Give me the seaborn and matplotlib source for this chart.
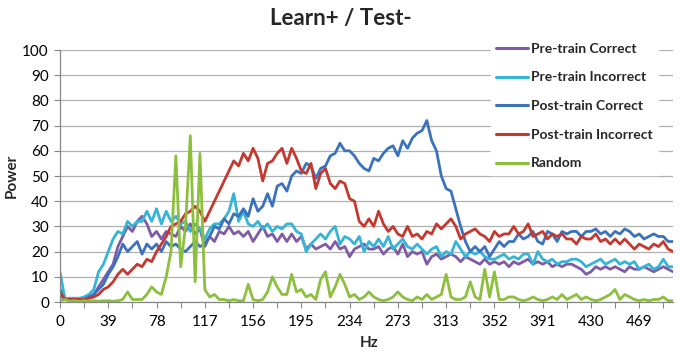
import matplotlib
matplotlib.use('Agg')
import matplotlib.pyplot as plt
import pandas as pd
import seaborn as sns
from matplotlib.ticker import FixedLocator

# frequency bins: 128 bins of 1000/256 Hz
bin_width = 1000 / 256
n_bins = 128

tick_labels = ['0', '39', '78', '117', '156', '195', '234', '273', '313',
               '352', '391', '430', '469']

series_names = ['Pre-train Correct', 'Pre-train Incorrect', 'Post-train Correct',
                'Post-train Incorrect', 'Random']

pre_correct = [
    5, 1, 1, 1, 1, 1.5, 2, 3, 6, 9, 12, 15, 22, 26, 30, 28,
    32, 34, 31, 26, 28, 25, 28, 27, 26, 30, 28, 31, 27, 29,
    22, 26, 24, 28, 27, 30, 27, 28, 26, 28, 24, 27, 30, 26, 27, 24, 27,
    24, 27, 24, 26, 21, 23, 21, 22, 23, 21, 24, 21, 22, 18, 21, 22,
    23, 21, 21, 22, 19, 21, 22, 19, 23, 18, 20, 19, 20, 15, 18, 19,
    17, 18, 19, 18, 16, 18, 17, 16, 15, 17, 15, 16, 15, 16, 14,
    16, 15, 16, 17, 15, 16, 15, 16, 14, 15, 14, 15, 15, 14, 13, 11,
    12, 14, 13, 14, 13, 14, 13, 12, 14, 13, 13, 14, 13, 12, 13, 14, 13, 12]

pre_incorrect = [
    12, 1.5, 1.5, 1.5, 1.5, 2, 3, 5, 12, 15, 20, 25, 28, 27, 32, 30,
    32, 32, 36, 32, 37, 31, 36, 32, 34, 31, 32, 28, 31, 29,
    25, 29, 31, 31, 33, 36, 43, 32, 36, 31, 30, 32, 29, 31, 28, 30, 29,
    31, 31, 28, 27, 20, 23, 25, 27, 25, 28, 30, 23, 26, 25, 23, 26,
    20, 24, 22, 25, 22, 26, 21, 23, 25, 22, 21, 23, 21, 19, 21, 22,
    18, 20, 19, 24, 21, 18, 20, 19, 20, 18, 17, 17, 18, 19, 17,
    18, 17, 19, 19, 15, 20, 17, 16, 17, 15, 16, 16, 17, 17, 16, 14,
    15, 16, 17, 15, 16, 17, 15, 16, 15, 16, 13, 14, 15, 13, 14, 17, 14, 14]

post_correct = [
    3, 1, 1, 1, 1, 1, 2, 3, 5, 7, 11, 14, 18, 23, 20, 22,
    24, 19, 23, 21, 23, 20, 24, 22, 23, 21, 20, 22, 24, 22,
    23, 26, 30, 29, 33, 31, 35, 34, 37, 34, 41, 36, 38, 43, 38, 46, 47,
    44, 50, 52, 51, 55, 54, 49, 53, 54, 58, 59, 63, 60, 60, 58, 55,
    53, 52, 57, 56, 59, 61, 62, 58, 64, 61, 65, 67, 68, 72, 64, 60,
    50, 45, 44, 37, 30, 24, 20, 22, 20, 22, 18, 21, 24, 22, 24,
    24, 27, 25, 26, 28, 24, 23, 28, 27, 24, 28, 27, 28, 28, 26, 28,
    28, 29, 27, 28, 26, 28, 27, 29, 28, 26, 27, 25, 26, 27, 26, 26, 24, 24]

post_incorrect = [
    4, 1, 1, 1, 1, 1, 1.5, 2, 3, 5, 6, 8, 11, 13, 11, 13,
    15, 14, 17, 16, 20, 23, 26, 30, 31, 32, 35, 36, 38, 36,
    32, 36, 40, 44, 48, 52, 56, 54, 59, 56, 61, 57, 48, 55, 56, 59, 61,
    55, 61, 57, 52, 51, 55, 45, 51, 53, 47, 45, 48, 47, 41, 40, 32,
    30, 33, 30, 36, 31, 28, 30, 27, 26, 30, 26, 27, 25, 28, 27, 31,
    29, 31, 33, 30, 25, 27, 28, 29, 27, 26, 24, 28, 26, 27, 27,
    30, 27, 28, 31, 26, 27, 28, 25, 27, 26, 27, 25, 25, 23, 26, 25,
    25, 27, 24, 25, 23, 25, 23, 25, 23, 21, 23, 22, 21, 23, 22, 24, 21, 20]

random_power = [
    0.5, 1, 0.3, 0.5, 0.3, 0.5, 0.3, 0.5, 0.3, 0.5, 0.5, 0.3, 0.5, 1, 4, 1,
    1, 1, 3, 6, 4, 3, 10, 20, 58, 14, 30, 66, 8, 59,
    5, 2, 3, 1, 1, 0.5, 1, 0.5, 0.5, 7, 1, 0.5, 1, 4, 10, 6, 3,
    3, 11, 4, 5, 2, 3, 1, 9, 12, 2, 6, 11, 7, 2, 3, 1,
    2, 4, 2, 1, 0.5, 1, 2, 4, 2, 1, 0.5, 2, 1, 3, 1, 2,
    3, 11, 2, 1, 1, 2, 8, 2, 1, 13, 2, 12, 1, 1, 2,
    2, 1, 0.5, 1, 2, 1, 0.5, 1, 2, 1, 3, 1, 2, 3, 1, 2,
    1, 0.5, 1, 2, 3, 5, 1, 3, 2, 1, 0.5, 1, 0.5, 1, 1, 2, 0.5, 0.5]

colors = ['#7F5BA6', '#34B4D6', '#3A72BE', '#C4392F', '#8DBF3E']

# long-form table for seaborn
hz = [i * bin_width for i in range(n_bins)]
frames = []
for name, vals in zip(series_names, [pre_correct, pre_incorrect, post_correct,
                                     post_incorrect, random_power]):
    frames.append(pd.DataFrame({'Hz': hz, 'Power': vals, 'Series': name}))
df = pd.concat(frames, ignore_index=True)

sns.set_theme(style='white')
plt.rcParams['font.family'] = ['Lato', 'DejaVu Sans']

fig = plt.figure(figsize=(6.8, 3.53), dpi=100)
ax = fig.add_axes([60 / 680, 51 / 353, 613 / 680, 252 / 353])

sns.lineplot(data=df, x='Hz', y='Power', hue='Series', hue_order=series_names,
             palette=colors, linewidth=2.0, estimator=None, ax=ax)

ax.set_xlim(0, (n_bins - 1) * bin_width)
ax.set_ylim(0, 100)

# x ticks: labels every 10 bins, tick marks every 5 bins
ax.xaxis.set_major_locator(FixedLocator([i * bin_width for i in range(0, n_bins, 10)]))
ax.set_xticklabels(tick_labels)
ax.xaxis.set_minor_locator(FixedLocator([i * bin_width for i in range(5, n_bins, 10)]))
ax.set_yticks(range(0, 101, 10))

ax.tick_params(axis='both', which='both', direction='out', color='#868686',
               labelsize=11, labelcolor='black')
ax.tick_params(axis='x', which='both', length=4, width=0.8, pad=5, bottom=True)
ax.tick_params(axis='y', length=4, width=0.8, pad=4, left=True)

ax.yaxis.grid(True, color='#B0B0B0', linewidth=0.9)
ax.xaxis.grid(False)
ax.set_axisbelow(True)
for side in ['top', 'right']:
    ax.spines[side].set_visible(False)
for side in ['left', 'bottom']:
    ax.spines[side].set_color('#868686')
    ax.spines[side].set_linewidth(0.9)

ax.set_xlabel('Hz', fontsize=11, fontweight='bold')
ax.set_ylabel('Power', fontsize=11, fontweight='bold')
ax.xaxis.set_label_coords(0.505, -0.135)
ax.yaxis.set_label_coords(-0.067, 0.5)

handles, labels = ax.get_legend_handles_labels()
leg = ax.legend(handles, labels, loc='upper left', bbox_to_anchor=(0.703, 1.051),
                frameon=True, facecolor='white', edgecolor='white', framealpha=1,
                fancybox=False, borderaxespad=0, borderpad=0.4, handlelength=2.3,
                handletextpad=0.15, labelspacing=1.2,
                prop={'weight': 'bold', 'size': 10})
for line in leg.get_lines():
    line.set_linewidth(2.2)

fig.text(341 / 680, 1 - 18 / 353, 'Learn+ / Test-', ha='center', va='center',
         fontsize=16, fontweight='bold')

fig.savefig('out.png', dpi=100)
